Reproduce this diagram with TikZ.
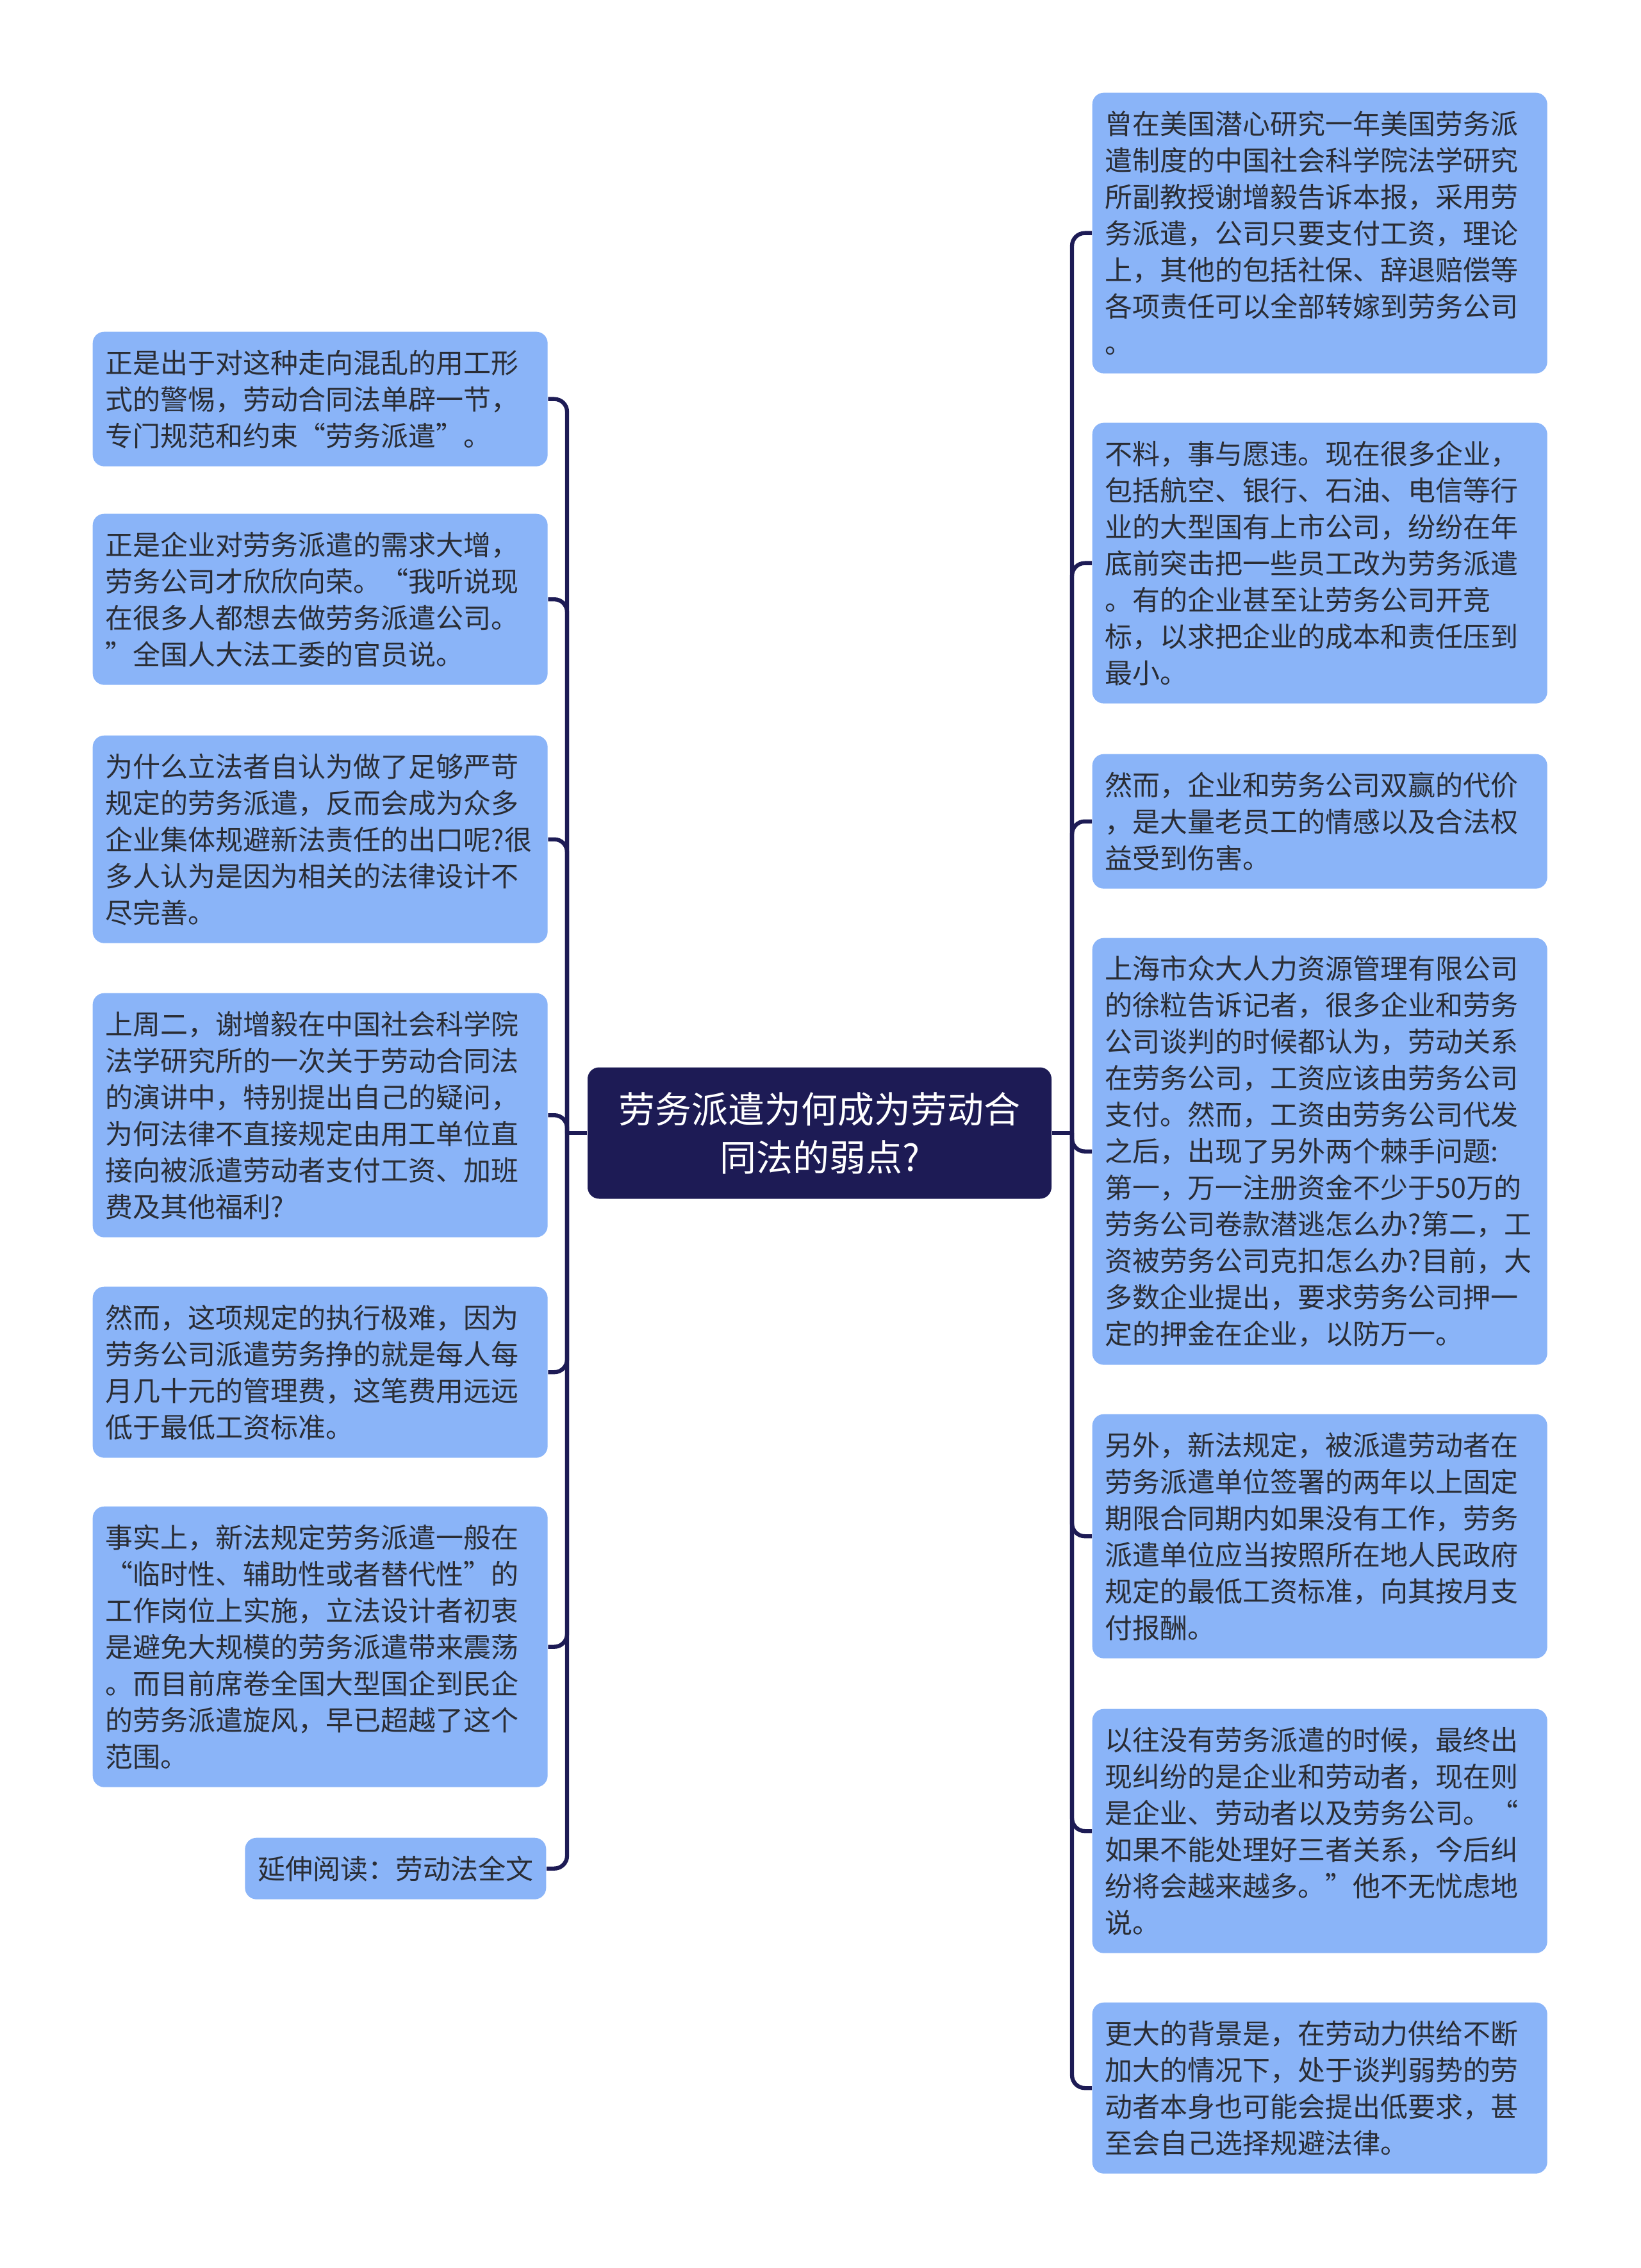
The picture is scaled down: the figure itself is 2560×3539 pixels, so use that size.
\documentclass[tikz,border=0pt]{standalone}
\usepackage{fontspec}
\setmainfont{Noto Sans CJK SC}
\definecolor{leafblue}{HTML}{8AB4F8}
\definecolor{topicnavy}{HTML}{1D1B55}
\definecolor{leafink}{HTML}{2A2D35}
\tikzset{
	leaf/.style={rectangle, rounded corners=5.4pt, fill=leafblue, text=leafink,
		anchor=north west, align=left, text width=201pt, inner xsep=6pt, inner ysep=1pt,
		minimum height={#1*17.1pt+11.7pt}, font=\fontsize{12.9}{17.1}\selectfont},
	topicbox/.style={rectangle, rounded corners=5.4pt, fill=topicnavy, text=white,
		align=center, minimum width=217.2pt, minimum height=61.5pt,
		font=\fontsize{17.1}{22.5}\selectfont},
	branch/.style={draw=topicnavy, line width=1.9pt, rounded corners=6pt}
}
\begin{document}
\begin{tikzpicture}[x=0.3pt,y=-0.3pt]
	\useasboundingbox (0,0) rectangle (2560,3539);
	\node[topicbox] (topic) at (1279,1768) {劳务派遣为何成为劳动合\\同法的弱点?};
	\coordinate (lhub) at (885,1768);
	\coordinate (rhub) at (1673,1768);
	% left side
	\node[leaf=3] (l1) at (144,517) {正是出于对这种走向混乱的用工形\\式的警惕，劳动合同法单辟一节，\\专门规范和约束“劳务派遣”。};
	\node[leaf=4] (l2) at (144,801) {正是企业对劳务派遣的需求大增，\\劳务公司才欣欣向荣。“我听说现\\在很多人都想去做劳务派遣公司。\\”全国人大法工委的官员说。};
	\node[leaf=5] (l3) at (144,1147) {为什么立法者自认为做了足够严苛\\规定的劳务派遣，反而会成为众多\\企业集体规避新法责任的出口呢?很\\多人认为是因为相关的法律设计不\\尽完善。};
	\node[leaf=6] (l4) at (144,1549) {上周二，谢增毅在中国社会科学院\\法学研究所的一次关于劳动合同法\\的演讲中，特别提出自己的疑问，\\为何法律不直接规定由用工单位直\\接向被派遣劳动者支付工资、加班\\费及其他福利?};
	\node[leaf=4] (l5) at (144,2007) {然而，这项规定的执行极难，因为\\劳务公司派遣劳务挣的就是每人每\\月几十元的管理费，这笔费用远远\\低于最低工资标准。};
	\node[leaf=7] (l6) at (144,2350) {事实上，新法规定劳务派遣一般在\\“临时性、辅助性或者替代性”的\\工作岗位上实施，立法设计者初衷\\是避免大规模的劳务派遣带来震荡\\。而目前席卷全国大型国企到民企\\的劳务派遣旋风，早已超越了这个\\范围。};
	\node[leaf=1, anchor=north east, text width={}] (l7) at (853,2867) {延伸阅读：劳动法全文};
	% right side
	\node[leaf=7] (r1) at (1704,144) {曾在美国潜心研究一年美国劳务派\\遣制度的中国社会科学院法学研究\\所副教授谢增毅告诉本报，采用劳\\务派遣，公司只要支付工资，理论\\上，其他的包括社保、辞退赔偿等\\各项责任可以全部转嫁到劳务公司\\。};
	\node[leaf=7] (r2) at (1704,659) {不料，事与愿违。现在很多企业，\\包括航空、银行、石油、电信等行\\业的大型国有上市公司，纷纷在年\\底前突击把一些员工改为劳务派遣\\。有的企业甚至让劳务公司开竞\\标，以求把企业的成本和责任压到\\最小。};
	\node[leaf=3] (r3) at (1704,1176) {然而，企业和劳务公司双赢的代价\\，是大量老员工的情感以及合法权\\益受到伤害。};
	\node[leaf=11] (r4) at (1704,1463) {上海市众大人力资源管理有限公司\\的徐粒告诉记者，很多企业和劳务\\公司谈判的时候都认为，劳动关系\\在劳务公司，工资应该由劳务公司\\支付。然而，工资由劳务公司代发\\之后，出现了另外两个棘手问题:\\第一，万一注册资金不少于50万的\\劳务公司卷款潜逃怎么办?第二，工\\资被劳务公司克扣怎么办?目前，大\\多数企业提出，要求劳务公司押一\\定的押金在企业，以防万一。};
	\node[leaf=6] (r5) at (1704,2206) {另外，新法规定，被派遣劳动者在\\劳务派遣单位签署的两年以上固定\\期限合同期内如果没有工作，劳务\\派遣单位应当按照所在地人民政府\\规定的最低工资标准，向其按月支\\付报酬。};
	\node[leaf=6] (r6) at (1704,2666) {以往没有劳务派遣的时候，最终出\\现纠纷的是企业和劳动者，现在则\\是企业、劳动者以及劳务公司。“\\如果不能处理好三者关系，今后纠\\纷将会越来越多。”他不无忧虑地\\说。};
	\node[leaf=4] (r7) at (1704,3124) {更大的背景是，在劳动力供给不断\\加大的情况下，处于谈判弱势的劳\\动者本身也可能会提出低要求，甚\\至会自己选择规避法律。};
	\draw[branch] (topic.west) -- (lhub);
	\draw[branch] (topic.east) -- (rhub);
	\foreach \n in {l1,l2,l3,l4,l5,l6,l7}
		\draw[branch] (lhub) |- (\n.east);
	\foreach \n in {r1,r2,r3,r4,r5,r6,r7}
		\draw[branch] (rhub) |- (\n.west);
\end{tikzpicture}
\end{document}
